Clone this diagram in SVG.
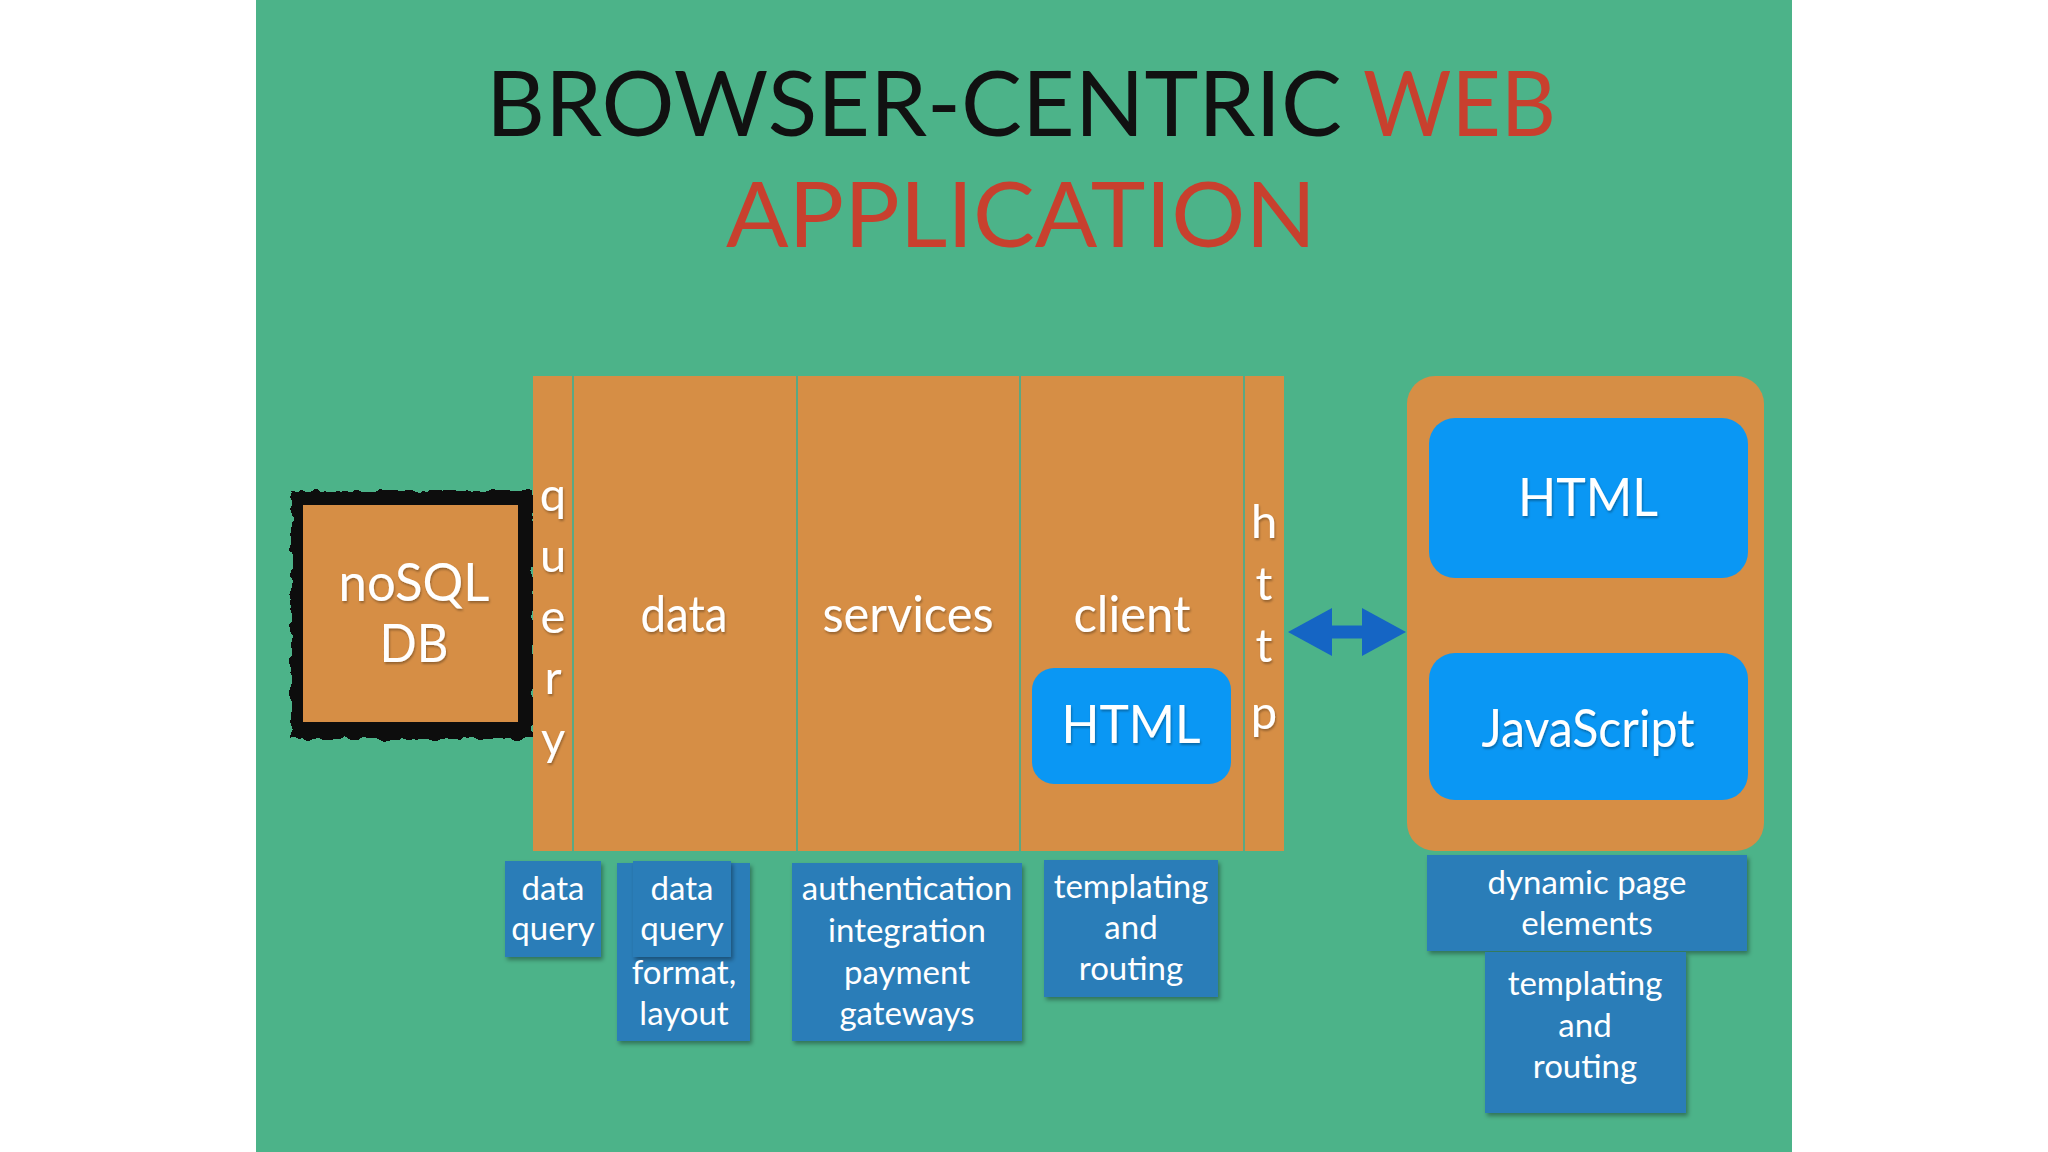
<svg xmlns="http://www.w3.org/2000/svg" width="2048" height="1152" viewBox="0 0 2048 1152">
  <defs>
    <style>
      .lbl { font-family: Lato, "Open Sans", "Liberation Sans", sans-serif; fill: #ffffff; text-anchor: middle; }
      .big { font-size: 52px; }
      .mid { font-size: 50px; }
      .vert { font-size: 47px; }
      .small { font-size: 33px; }
      .title { font-family: Lato, "Open Sans", "Liberation Sans", sans-serif; font-size: 91px; }
      .orange { fill: #d68e45; }
      .bright { fill: #0a97f4; }
      .steel { fill: #2b7db8; }
      .divider { stroke: #5aa883; stroke-width: 2; }
    </style>
    <filter id="shadow" x="-10%" y="-10%" width="125%" height="130%">
      <feDropShadow dx="2" dy="3" stdDeviation="2" flood-color="#000" flood-opacity="0.35"/>
    </filter>
    <filter id="tshadow" x="-10%" y="-10%" width="120%" height="130%">
      <feDropShadow dx="1" dy="2" stdDeviation="1" flood-color="#000" flood-opacity="0.3"/>
    </filter>
    <filter id="rough" x="-10%" y="-10%" width="120%" height="120%">
      <feTurbulence type="fractalNoise" baseFrequency="0.09" numOctaves="2" seed="3" result="n"/>
      <feDisplacementMap in="SourceGraphic" in2="n" scale="9" xChannelSelector="R" yChannelSelector="G"/>
    </filter>
    <marker id="ahead" viewBox="0 0 44 48" markerWidth="44" markerHeight="48" refX="1" refY="24" orient="auto-start-reverse" markerUnits="userSpaceOnUse">
      <path d="M0,0 L44,24 L0,48 Z" fill="#1565c4"/>
    </marker>
  </defs>

  <rect x="0" y="0" width="2048" height="1152" fill="#ffffff"/>
  <rect x="256" y="0" width="1536" height="1152" fill="#4cb389"/>

  <g id="title">
    <text class="title" x="486" y="136" textLength="856" lengthAdjust="spacingAndGlyphs" fill="#111111">BROWSER-CENTRIC</text>
    <text class="title" x="1363" y="136" textLength="193" lengthAdjust="spacingAndGlyphs" fill="#c8402e">WEB</text>
    <text class="title" x="726" y="247" textLength="590" lengthAdjust="spacingAndGlyphs" fill="#c8402e">APPLICATION</text>
  </g>

  <g id="nosql-db">
    <rect x="291" y="491" width="242" height="248" fill="#0b0b0b" filter="url(#rough)"/>
    <rect x="303" y="505" width="215" height="217" class="orange"/>
    <g filter="url(#tshadow)">
      <text class="lbl big" x="414" y="601" textLength="151" lengthAdjust="spacingAndGlyphs">noSQL</text>
      <text class="lbl big" x="414" y="662" textLength="69" lengthAdjust="spacingAndGlyphs">DB</text>
    </g>
  </g>

  <g id="server">
    <rect x="533" y="376" width="751" height="475" class="orange"/>
    <line class="divider" x1="573" y1="376" x2="573" y2="851"/>
    <line class="divider" x1="797" y1="376" x2="797" y2="851"/>
    <line class="divider" x1="1020" y1="376" x2="1020" y2="851"/>
    <line class="divider" x1="1244" y1="376" x2="1244" y2="851"/>
  </g>

  <g id="query-layer" filter="url(#tshadow)">
    <text class="lbl vert" x="553" y="511">q</text>
    <text class="lbl vert" x="553" y="572">u</text>
    <text class="lbl vert" x="553" y="633">e</text>
    <text class="lbl vert" x="553" y="694">r</text>
    <text class="lbl vert" x="553" y="755">y</text>
  </g>

  <g id="data-layer">
    <text class="lbl mid" x="684" y="632" textLength="87" lengthAdjust="spacingAndGlyphs" filter="url(#tshadow)">data</text>
  </g>

  <g id="services-layer">
    <text class="lbl mid" x="908" y="632" textLength="171" lengthAdjust="spacingAndGlyphs" filter="url(#tshadow)">services</text>
  </g>

  <g id="client-layer">
    <text class="lbl mid" x="1132" y="632" textLength="117" lengthAdjust="spacingAndGlyphs" filter="url(#tshadow)">client</text>
    <rect x="1032" y="668" width="199" height="116" rx="22" class="bright"/>
    <text class="lbl big" x="1131" y="743" textLength="139" lengthAdjust="spacingAndGlyphs" filter="url(#tshadow)">HTML</text>
  </g>

  <g id="http-layer" filter="url(#tshadow)">
    <text class="lbl vert" x="1264" y="538">h</text>
    <text class="lbl vert" x="1264" y="600">t</text>
    <text class="lbl vert" x="1264" y="662">t</text>
    <text class="lbl vert" x="1264" y="729">p</text>
  </g>

  <g id="browser">
    <rect x="1407" y="376" width="357" height="475" rx="28" class="orange"/>
  </g>

  <g id="browser-html">
    <rect x="1429" y="418" width="319" height="160" rx="26" class="bright"/>
    <text class="lbl big" x="1588" y="516" textLength="140" lengthAdjust="spacingAndGlyphs" filter="url(#tshadow)">HTML</text>
  </g>

  <g id="browser-javascript">
    <rect x="1429" y="653" width="319" height="147" rx="26" class="bright"/>
    <text class="lbl big" x="1588" y="747" textLength="213" lengthAdjust="spacingAndGlyphs" filter="url(#tshadow)">JavaScript</text>
  </g>

  <g id="note-query">
    <rect x="505" y="861" width="96" height="96" class="steel" filter="url(#shadow)"/>
    <text class="lbl small" x="553" y="900">data</text>
    <text class="lbl small" x="553" y="940">query</text>
  </g>

  <g id="note-data">
    <rect x="617" y="863" width="133" height="178" class="steel" filter="url(#shadow)"/>
    <rect x="633" y="861" width="98" height="96" class="steel" filter="url(#shadow)"/>
    <text class="lbl small" x="682" y="900">data</text>
    <text class="lbl small" x="682" y="940">query</text>
    <text class="lbl small" x="684" y="984">format,</text>
    <text class="lbl small" x="684" y="1025">layout</text>
  </g>

  <g id="note-services">
    <rect x="792" y="863" width="230" height="178" class="steel" filter="url(#shadow)"/>
    <text class="lbl small" x="907" y="900">authentication</text>
    <text class="lbl small" x="907" y="942">integration</text>
    <text class="lbl small" x="907" y="984">payment</text>
    <text class="lbl small" x="907" y="1025">gateways</text>
  </g>

  <g id="note-client">
    <rect x="1044" y="860" width="174" height="137" class="steel" filter="url(#shadow)"/>
    <text class="lbl small" x="1131" y="898">templating</text>
    <text class="lbl small" x="1131" y="939">and</text>
    <text class="lbl small" x="1131" y="980">routing</text>
  </g>

  <g id="note-browser-html">
    <rect x="1427" y="855" width="320" height="96" class="steel" filter="url(#shadow)"/>
    <text class="lbl small" x="1587" y="894">dynamic page</text>
    <text class="lbl small" x="1587" y="935">elements</text>
  </g>

  <g id="note-browser-js">
    <rect x="1485" y="952" width="201" height="161" class="steel" filter="url(#shadow)"/>
    <text class="lbl small" x="1585" y="995">templating</text>
    <text class="lbl small" x="1585" y="1037">and</text>
    <text class="lbl small" x="1585" y="1078">routing</text>
  </g>

  <g id="connectors">
    <line x1="1331" y1="632" x2="1363" y2="632" stroke="#1565c4" stroke-width="13" marker-start="url(#ahead)" marker-end="url(#ahead)"/>
  </g>
</svg>
